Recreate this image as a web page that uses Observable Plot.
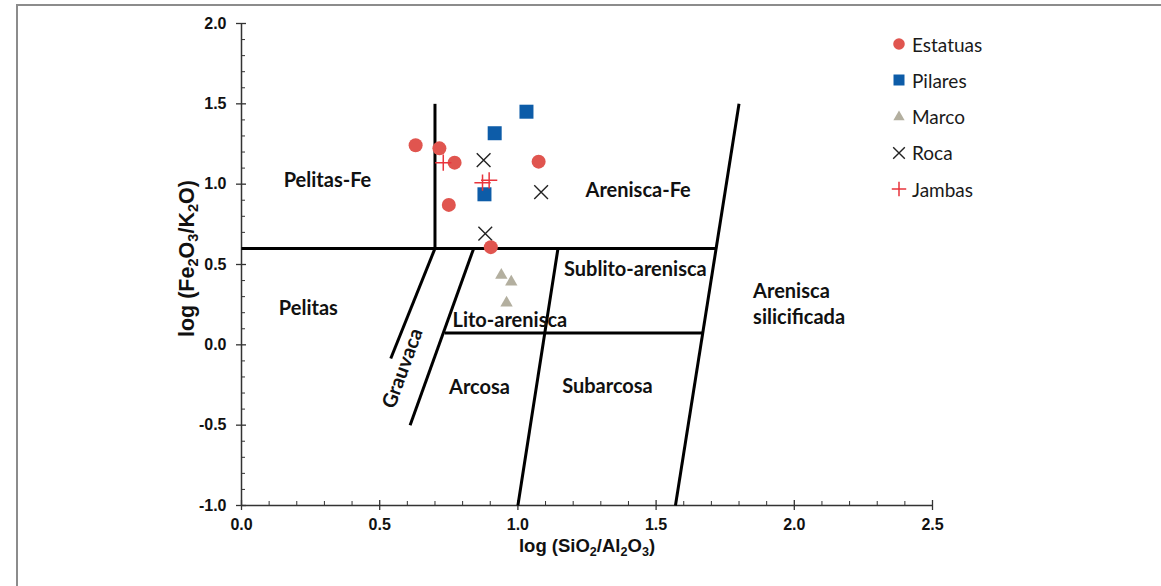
<!DOCTYPE html>
<html>
<head>
<meta charset="utf-8">
<script src="https://cdn.jsdelivr.net/npm/d3@7"></script>
<script src="https://cdn.jsdelivr.net/npm/@observablehq/plot@0.6"></script>
<style>
  body { margin: 0; background: #fff; }
  #wrap { position: relative; width: 1161px; height: 586px; overflow: hidden; background: #fff; }
  #frameTop { position: absolute; left: 16px; top: 4px; right: 0; height: 2px; background: #8c8c8c; }
  #frameLeft { position: absolute; left: 16px; top: 4px; bottom: 0; width: 2px; background: #8c8c8c; }
  #chart { position: absolute; left: 0; top: 0; }
  #legend { position: absolute; left: 0; top: 0; font-family: Lato, "Open Sans", sans-serif; font-size: 19px; color: #1a1a1a; }
  .lg { position: absolute; height: 36px; display: flex; align-items: center; white-space: nowrap; }
</style>
</head>
<body>
<div id="wrap">
  <div id="frameTop"></div>
  <div id="frameLeft"></div>
  <div id="chart"></div>
  <div id="legend"></div>
</div>
<script>
// ---------------- data ----------------
const estatuasX = [0.630, 0.716, 0.771, 0.750, 1.075, 0.902];
const estatuasY = [1.242, 1.223, 1.134, 0.871, 1.140, 0.608];
const pilaresX  = [1.031, 0.916, 0.879];
const pilaresY  = [1.451, 1.317, 0.937];
const marcoX    = [0.940, 0.976, 0.959];
const marcoY    = [0.433, 0.392, 0.261];
const rocaX     = [0.876, 1.084, 0.882];
const rocaY     = [1.149, 0.950, 0.692];
const jambasX   = [0.730, 0.896, 0.872];
const jambasY   = [1.134, 1.024, 1.009];

// classification boundaries (diagram lines)
const segX1 = [0.000, 0.700, 0.700, 0.840, 1.145, 0.735, 1.570];
const segY1 = [0.600, 0.600, 0.600, 0.600, 0.600, 0.073, -1.000];
const segX2 = [1.717, 0.700, 0.540, 0.610, 1.000, 1.668, 1.800];
const segY2 = [0.600, 1.500, -0.085, -0.500, -1.000, 0.073, 1.500];

// region labels
const regionNames = ["Pelitas-Fe", "Arenisca-Fe", "Pelitas", "Sublito-arenisca", "Lito-arenisca", "Arcosa", "Subarcosa"];
const regionX = [0.311, 1.435, 0.242, 1.425, 0.971, 0.861, 1.324];
const regionY = [1.020, 0.962, 0.224, 0.471, 0.149, -0.265, -0.257];
const silicLabel = ["Arenisca\nsilicificada"];
const silicX = [1.851];
const silicY = [0.261];
const grauLabel = ["Grauvaca"];
const grauX = [0.583];
const grauY = [-0.147];

// ticks
const xMajorTicks = [0, 0.5, 1.0, 1.5, 2.0, 2.5];
const xMinorTicks = [0.1,0.2,0.3,0.4,0.6,0.7,0.8,0.9,1.1,1.2,1.3,1.4,1.6,1.7,1.8,1.9,2.1,2.2,2.3,2.4];
const yMajorTicks = [-1.0, -0.5, 0.0, 0.5, 1.0, 1.5, 2.0];
const yMinorTicks = [-0.9,-0.8,-0.7,-0.6,-0.4,-0.3,-0.2,-0.1,0.1,0.2,0.3,0.4,0.6,0.7,0.8,0.9,1.1,1.2,1.3,1.4,1.6,1.7,1.8,1.9];
const xTitle = "log (SiO2/Al2O3)";
const yTitle = "log (Fe2O3/K2O)";

// series names
const seriesNames = ["Estatuas", "Pilares", "Marco", "Roca", "Jambas"];

// ---------------- build tables ----------------
const zip = (xs, ys) => xs.map((x, i) => ({x, y: ys[i]}));
const segments = segX1.map((x1, i) => ({x1, y1: segY1[i], x2: segX2[i], y2: segY2[i]}));
const regions = regionNames.map((t, i) => ({t, x: regionX[i], y: regionY[i]}));
const silic = silicLabel.map((t, i) => ({t, x: silicX[i], y: silicY[i]}));
const grau = grauLabel.map((t, i) => ({t, x: grauX[i], y: grauY[i]}));

const axisFont = "Liberation Sans, Arial, sans-serif";
const labelFont = "Lato, Carlito, sans-serif";

const chart = Plot.plot({
  width: 1161,
  height: 586,
  marginLeft: 241,
  marginRight: 229,
  marginTop: 23,
  marginBottom: 81,
  x: {domain: [0, 2.5], axis: null},
  y: {domain: [-1, 2], axis: null},
  style: {background: "transparent", overflow: "visible"},
  marks: [
    // axis lines
    Plot.ruleY([-1], {x1: 0, x2: 2.5, stroke: "#333", strokeWidth: 1.5}),
    Plot.ruleX([0], {y1: -1, y2: 2, stroke: "#333", strokeWidth: 1.5}),
    // ticks
    Plot.ruleX(xMajorTicks, {x: d => d, y1: -1, y2: -1, insetTop: -5, insetBottom: -5, stroke: "#333", strokeWidth: 1.3}),
    Plot.ruleX(xMinorTicks, {x: d => d, y1: -1, y2: -1, insetTop: -4, stroke: "#333", strokeWidth: 1}),
    Plot.ruleY(yMajorTicks, {y: d => d, x1: 0, x2: 0, insetLeft: -5, insetRight: -5, stroke: "#333", strokeWidth: 1.3}),
    Plot.ruleY(yMinorTicks, {y: d => d, x1: 0, x2: 0, insetRight: -4, stroke: "#333", strokeWidth: 1}),
    // tick labels
    Plot.text(xMajorTicks, {x: d => d, y: -1, dy: 19, text: d => d.toFixed(1), fontFamily: axisFont, fontWeight: "bold", fontSize: 16, fill: "#111"}),
    Plot.text(yMajorTicks, {x: 0, y: d => d, dx: -15, text: d => d.toFixed(1), textAnchor: "end", fontFamily: axisFont, fontWeight: "bold", fontSize: 16, fill: "#111"}),
    // axis titles
    Plot.text([xTitle], {frameAnchor: "bottom", textAnchor: "middle", dy: 46, text: d => d, fontFamily: axisFont, fontWeight: "bold", fontSize: 18.5, fill: "#111", className: "axtitle"}),
    Plot.text([yTitle], {frameAnchor: "left", textAnchor: "middle", dx: -54, dy: -6, rotate: -90, text: d => d, fontFamily: axisFont, fontWeight: "bold", fontSize: 21.5, fill: "#111", className: "axtitle"}),
    // classification lines
    Plot.link(segments, {x1: "x1", y1: "y1", x2: "x2", y2: "y2", stroke: "#000", strokeWidth: 3}),
    // region labels
    Plot.text(regions, {x: "x", y: "y", text: "t", fontFamily: labelFont, fontWeight: "bold", fontSize: 20, fill: "#111"}),
    Plot.text(silic, {x: "x", y: "y", text: "t", textAnchor: "start", lineHeight: 1.3, fontFamily: labelFont, fontWeight: "bold", fontSize: 20, fill: "#111"}),
    Plot.text(grau, {x: "x", y: "y", text: "t", rotate: -70, fontFamily: labelFont, fontWeight: "bold", fontSize: 20, fill: "#111"}),
    // data
    Plot.dot(zip(marcoX, marcoY), {x: "x", y: "y", symbol: "triangle", r: 4.6, fill: "#b3af9f", stroke: "none"}),
    Plot.dot(zip(rocaX, rocaY), {x: "x", y: "y", symbol: "times", r: 6.3, stroke: "#222", strokeWidth: 1.4, fill: "none"}),
    Plot.dot(zip(pilaresX, pilaresY), {x: "x", y: "y", symbol: "square", r: 7.9, fill: "#0d5ca8", stroke: "none"}),
    Plot.dot(zip(estatuasX, estatuasY), {x: "x", y: "y", symbol: "circle", r: 7, fill: "#e0554f", stroke: "none"}),
    Plot.dot(zip(jambasX, jambasY), {x: "x", y: "y", symbol: "plus", r: 5.3, stroke: "#e8343c", strokeWidth: 1.5, fill: "none"})
  ]
});

// subscripts in axis titles
chart.querySelectorAll(".axtitle text").forEach(el => {
  const s = el.textContent;
  el.textContent = "";
  let shifted = false;
  for (const part of s.split(/(\d)/)) {
    if (!part) continue;
    const t = document.createElementNS("http://www.w3.org/2000/svg", "tspan");
    t.textContent = part;
    const isSub = /^\d$/.test(part);
    if (isSub) {
      t.setAttribute("font-size", "0.68em");
      t.setAttribute("dy", shifted ? "0" : "4");
      shifted = true;
    } else if (shifted) {
      t.setAttribute("dy", "-4");
      shifted = false;
    }
    el.appendChild(t);
  }
});

document.getElementById("chart").appendChild(chart);

// legend (HTML overlay)
const legendSpec = [
  {name: seriesNames[0], type: d3.symbolCircle, size: 105, fill: "#e0554f", stroke: "none", sw: 0},
  {name: seriesNames[1], type: d3.symbolSquare, size: 121, fill: "#0d5ca8", stroke: "none", sw: 0},
  {name: seriesNames[2], type: d3.symbolTriangle, size: 55, fill: "#b3af9f", stroke: "none", sw: 0},
  {name: seriesNames[3], type: d3.symbolTimes, size: 90, fill: "none", stroke: "#222", sw: 1.4},
  {name: seriesNames[4], type: d3.symbolPlus, size: 70, fill: "none", stroke: "#e8343c", sw: 1.5}
];
const legend = d3.select("#legend");
legendSpec.forEach((d, i) => {
  const row = legend.append("div").attr("class", "lg")
    .style("left", "890px").style("top", (26 + i * 36.3) + "px");
  const svg = row.append("svg").attr("width", 18).attr("height", 18).style("margin-right", "4px");
  svg.append("path")
    .attr("transform", "translate(9,9)")
    .attr("d", d3.symbol(d.type, d.size)())
    .attr("fill", d.fill).attr("stroke", d.stroke).attr("stroke-width", d.sw);
  row.append("span").text(d.name);
});
</script>
</body>
</html>
